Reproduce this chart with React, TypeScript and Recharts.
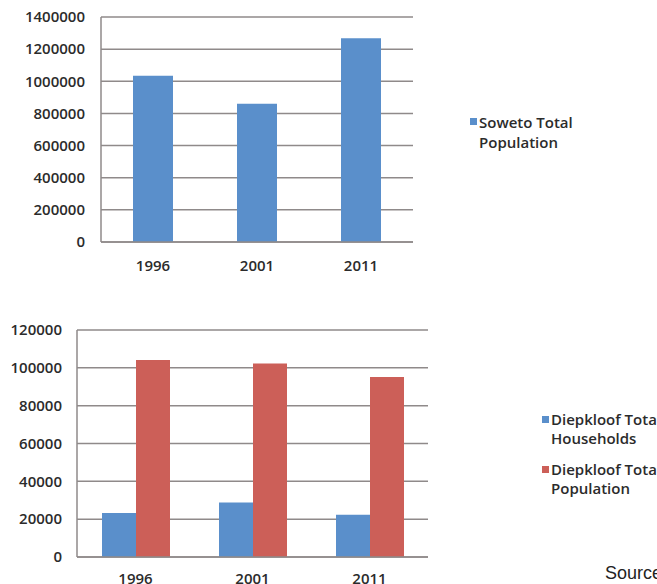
import { BarChart, Bar, XAxis, YAxis, CartesianGrid, Legend } from 'recharts';

const years = ['1996', '2001', '2011'];
const sowetoPopulation = [1035000, 861000, 1268000];
const diepkloofHouseholds = [23200, 28800, 22300];
const diepkloofPopulation = [104100, 102300, 95100];

const sowetoTicks = [0, 200000, 400000, 600000, 800000, 1000000, 1200000, 1400000];
const diepkloofTicks = [0, 20000, 40000, 60000, 80000, 100000, 120000];

const BLUE = '#5A8FCB';
const RED = '#CC5F58';
const GRID = '#8f8a8a';
const TEXT = '#2b2b2b';
const FONT = '"Open Sans", sans-serif';

const sowetoData = years.map((year, i) => ({
  year,
  soweto: sowetoPopulation[i],
}));

const diepkloofData = years.map((year, i) => ({
  year,
  households: diepkloofHouseholds[i],
  population: diepkloofPopulation[i],
}));

const tickStyle = { fill: TEXT, fontSize: 15, fontWeight: 600, fontFamily: FONT };

function makeLegend(lineHeight: number, gap: number) {
  return (props: any) => {
    const { payload = [] } = props;
    return (
      <div style={{ fontFamily: FONT, fontSize: 15, fontWeight: 600, color: TEXT }}>
        {payload.map((entry: any, index: number) => (
          <div
            key={`item-${index}`}
            style={{ display: 'flex', alignItems: 'flex-start', marginBottom: gap }}
          >
            <span
              style={{
                display: 'inline-block',
                width: 7,
                height: 7,
                background: entry.color,
                marginTop: Math.round(lineHeight / 2) - 4,
                marginRight: 2,
                flex: 'none',
              }}
            />
            <span style={{ width: 112, lineHeight: `${lineHeight}px` }}>{entry.value}</span>
          </div>
        ))}
      </div>
    );
  };
}

export default function App() {
  return (
    <div
      style={{
        position: 'fixed',
        left: 0,
        top: 0,
        width: 657,
        height: 584,
        overflow: 'hidden',
        background: '#fff',
      }}
    >
      <div style={{ position: 'absolute', left: 0, top: 0 }}>
        <BarChart
          width={657}
          height={300}
          data={sowetoData}
          margin={{ top: 17, right: 244, left: 0, bottom: 28 }}
        >
          <CartesianGrid vertical={false} stroke={GRID} strokeWidth={1.5} />
          <XAxis
            dataKey="year"
            height={30}
            tickLine={false}
            tickSize={0}
            tickMargin={18}
            axisLine={{ stroke: GRID, strokeWidth: 1.5 }}
            tick={tickStyle}
          />
          <YAxis
            width={101}
            domain={[0, 1400000]}
            ticks={sowetoTicks}
            interval={0}
            tickLine={false}
            tickSize={0}
            tickMargin={16}
            axisLine={{ stroke: GRID, strokeWidth: 1.5 }}
            tick={tickStyle}
          />
          <Legend
            layout="vertical"
            align="center"
            verticalAlign="middle"
            wrapperStyle={{ left: 470, top: 112, width: 180 }}
            content={makeLegend(20, 0)}
          />
          <Bar
            dataKey="soweto"
            name="Soweto Total Population"
            fill={BLUE}
            barSize={40}
            isAnimationActive={false}
          />
        </BarChart>
      </div>

      <div style={{ position: 'absolute', left: 0, top: 300 }}>
        <BarChart
          width={657}
          height={300}
          data={diepkloofData}
          margin={{ top: 30, right: 229, left: 0, bottom: 13 }}
          barGap={0}
        >
          <CartesianGrid vertical={false} stroke={GRID} strokeWidth={1.5} />
          <XAxis
            dataKey="year"
            height={30}
            tickLine={false}
            tickSize={0}
            tickMargin={16}
            axisLine={{ stroke: GRID, strokeWidth: 1.5 }}
            tick={tickStyle}
          />
          <YAxis
            width={77}
            domain={[0, 120000]}
            ticks={diepkloofTicks}
            interval={0}
            tickLine={false}
            tickSize={0}
            tickMargin={15}
            axisLine={{ stroke: GRID, strokeWidth: 1.5 }}
            tick={tickStyle}
          />
          <Legend
            layout="vertical"
            align="center"
            verticalAlign="middle"
            wrapperStyle={{ left: 542, top: 110, width: 200 }}
            content={makeLegend(19, 12)}
          />
          <Bar
            dataKey="households"
            name="Diepkloof Total Households"
            fill={BLUE}
            barSize={34}
            isAnimationActive={false}
          />
          <Bar
            dataKey="population"
            name="Diepkloof Total Population"
            fill={RED}
            barSize={34}
            isAnimationActive={false}
          />
        </BarChart>
      </div>

      <div
        style={{
          position: 'absolute',
          left: 605,
          top: 564,
          fontFamily: '"Liberation Sans", Arial, sans-serif',
          fontSize: 18,
          lineHeight: '18px',
          color: '#222',
          whiteSpace: 'nowrap',
        }}
      >
        Source
      </div>
    </div>
  );
}
